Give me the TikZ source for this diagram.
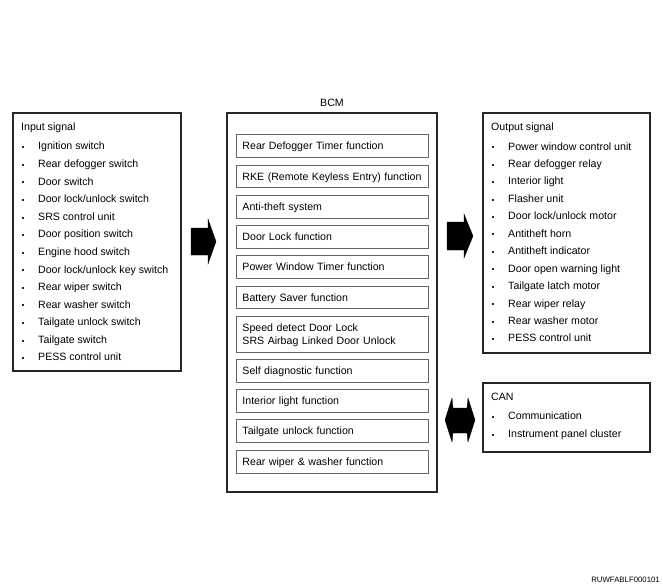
\documentclass[tikz,border=0pt]{standalone}
\usepackage{fontspec}
\setmainfont{Liberation Sans}
\begin{document}
\begin{tikzpicture}[x=1pt,y=-1pt,
  lbl/.style={font=\fontsize{10.6}{13}\selectfont, inner sep=0pt, anchor=west, text height=7.6pt, text depth=0pt},
  bul/.style={fill=black!85, inner sep=0pt, minimum size=2pt, shape=rectangle, anchor=center},
  outerbox/.style={draw=black!85, line width=1.1pt},
  fnbox/.style={draw=black!60, line width=0.9pt, anchor=north west, minimum width=192pt, text width=180pt, inner xsep=6pt, inner ysep=0pt, align=left, font=\fontsize{10.6}{13}\selectfont, text height=7.6pt, text depth=0pt},
  blockarrow/.style={fill=black, draw=black, line width=0.3pt},
  tag/.style={font=\fontsize{7.8}{9}\selectfont, inner sep=0pt, anchor=east}]
\useasboundingbox (0,0) rectangle (663,588);
\fill[white] (0,0) rectangle (663,588);

% boxes
\draw[outerbox] (13,113) rectangle (181,371);
\draw[outerbox] (227,113) rectangle (437,492);
\draw[outerbox] (483,113) rectangle (650,353);
\draw[outerbox] (483,383) rectangle (650,452);

% input list
\node[lbl] (inhead) at (21,127) {Input signal};
\foreach \t [count=\i] in {Ignition switch, Rear defogger switch, Door switch, Door lock/unlock switch, SRS control unit, Door position switch, Engine hood switch, Door lock/unlock key switch, Rear wiper switch, Rear washer switch, Tailgate unlock switch, Tailgate switch, PESS control unit}{
  \node[bul] (inb\i) at (23,{round(129.6+17.58*\i)}) {};
  \node[lbl] (in\i) at (38,{128.6+17.58*\i}) {\t};
}

% output list
\node[lbl] (outhead) at (491,127) {Output signal};
\foreach \t [count=\i] in {Power window control unit, Rear defogger relay, Interior light, Flasher unit, Door lock/unlock motor, Antitheft horn, Antitheft indicator, Door open warning light, Tailgate latch motor, Rear wiper relay, Rear washer motor, PESS control unit}{
  \node[bul] (outb\i) at (493,{round(129.75+17.45*\i)}) {};
  \node[lbl] (out\i) at (508,{128.75+17.45*\i}) {\t};
}

% CAN
\node[lbl] (canhead) at (491,397) {CAN};
\node[bul] (canb1) at (493,417) {};
\node[lbl] (can1) at (508,416) {Communication};
\node[bul] (canb2) at (493,435) {};
\node[lbl] (can2) at (508,434) {Instrument panel cluster};

% BCM
\node[font=\fontsize{10.6}{13}\selectfont, inner sep=0pt] (bcm) at (332,103) {BCM};
\node[fnbox, minimum height=23pt] (f1) at (236,134) {Rear Defogger Timer function};
\node[fnbox, minimum height=22pt] (f2) at (236,165) {RKE (Remote Keyless Entry) function};
\node[fnbox, minimum height=23pt] (f3) at (236,195) {Anti-theft system};
\node[fnbox, minimum height=23pt] (f4) at (236,225) {Door Lock function};
\node[fnbox, minimum height=23pt] (f5) at (236,255) {Power Window Timer function};
\node[fnbox, minimum height=22pt] (f6) at (236,286) {Battery Saver function};
\node[fnbox, minimum height=36pt, text depth=13pt] (f7) at (236,316) {Speed detect Door Lock\\SRS Airbag Linked Door Unlock};
\node[fnbox, minimum height=23pt] (f8) at (236,359) {Self diagnostic function};
\node[fnbox, minimum height=23pt] (f9) at (236,389) {Interior light function};
\node[fnbox, minimum height=23pt] (f10) at (236,419) {Tailgate unlock function};
\node[fnbox, minimum height=23pt] (f11) at (236,450) {Rear wiper \& washer function};

% block arrows
\draw[blockarrow] (191,228) -- (208,228) -- (208,219) -- (216,241.5) -- (208,264) -- (208,255) -- (191,255) -- cycle;
\draw[blockarrow] (447,222) -- (464,222) -- (464,214) -- (473,236) -- (464,258) -- (464,250) -- (447,250) -- cycle;
\draw[blockarrow] (445,420) -- (452,398) -- (453,408) -- (467,408) -- (468,398) -- (475,420) -- (468,442) -- (467,433) -- (453,433) -- (452,442) -- cycle;

\node[tag] (code) at (660,580) {RUWFABLF000101};
\end{tikzpicture}
\end{document}
